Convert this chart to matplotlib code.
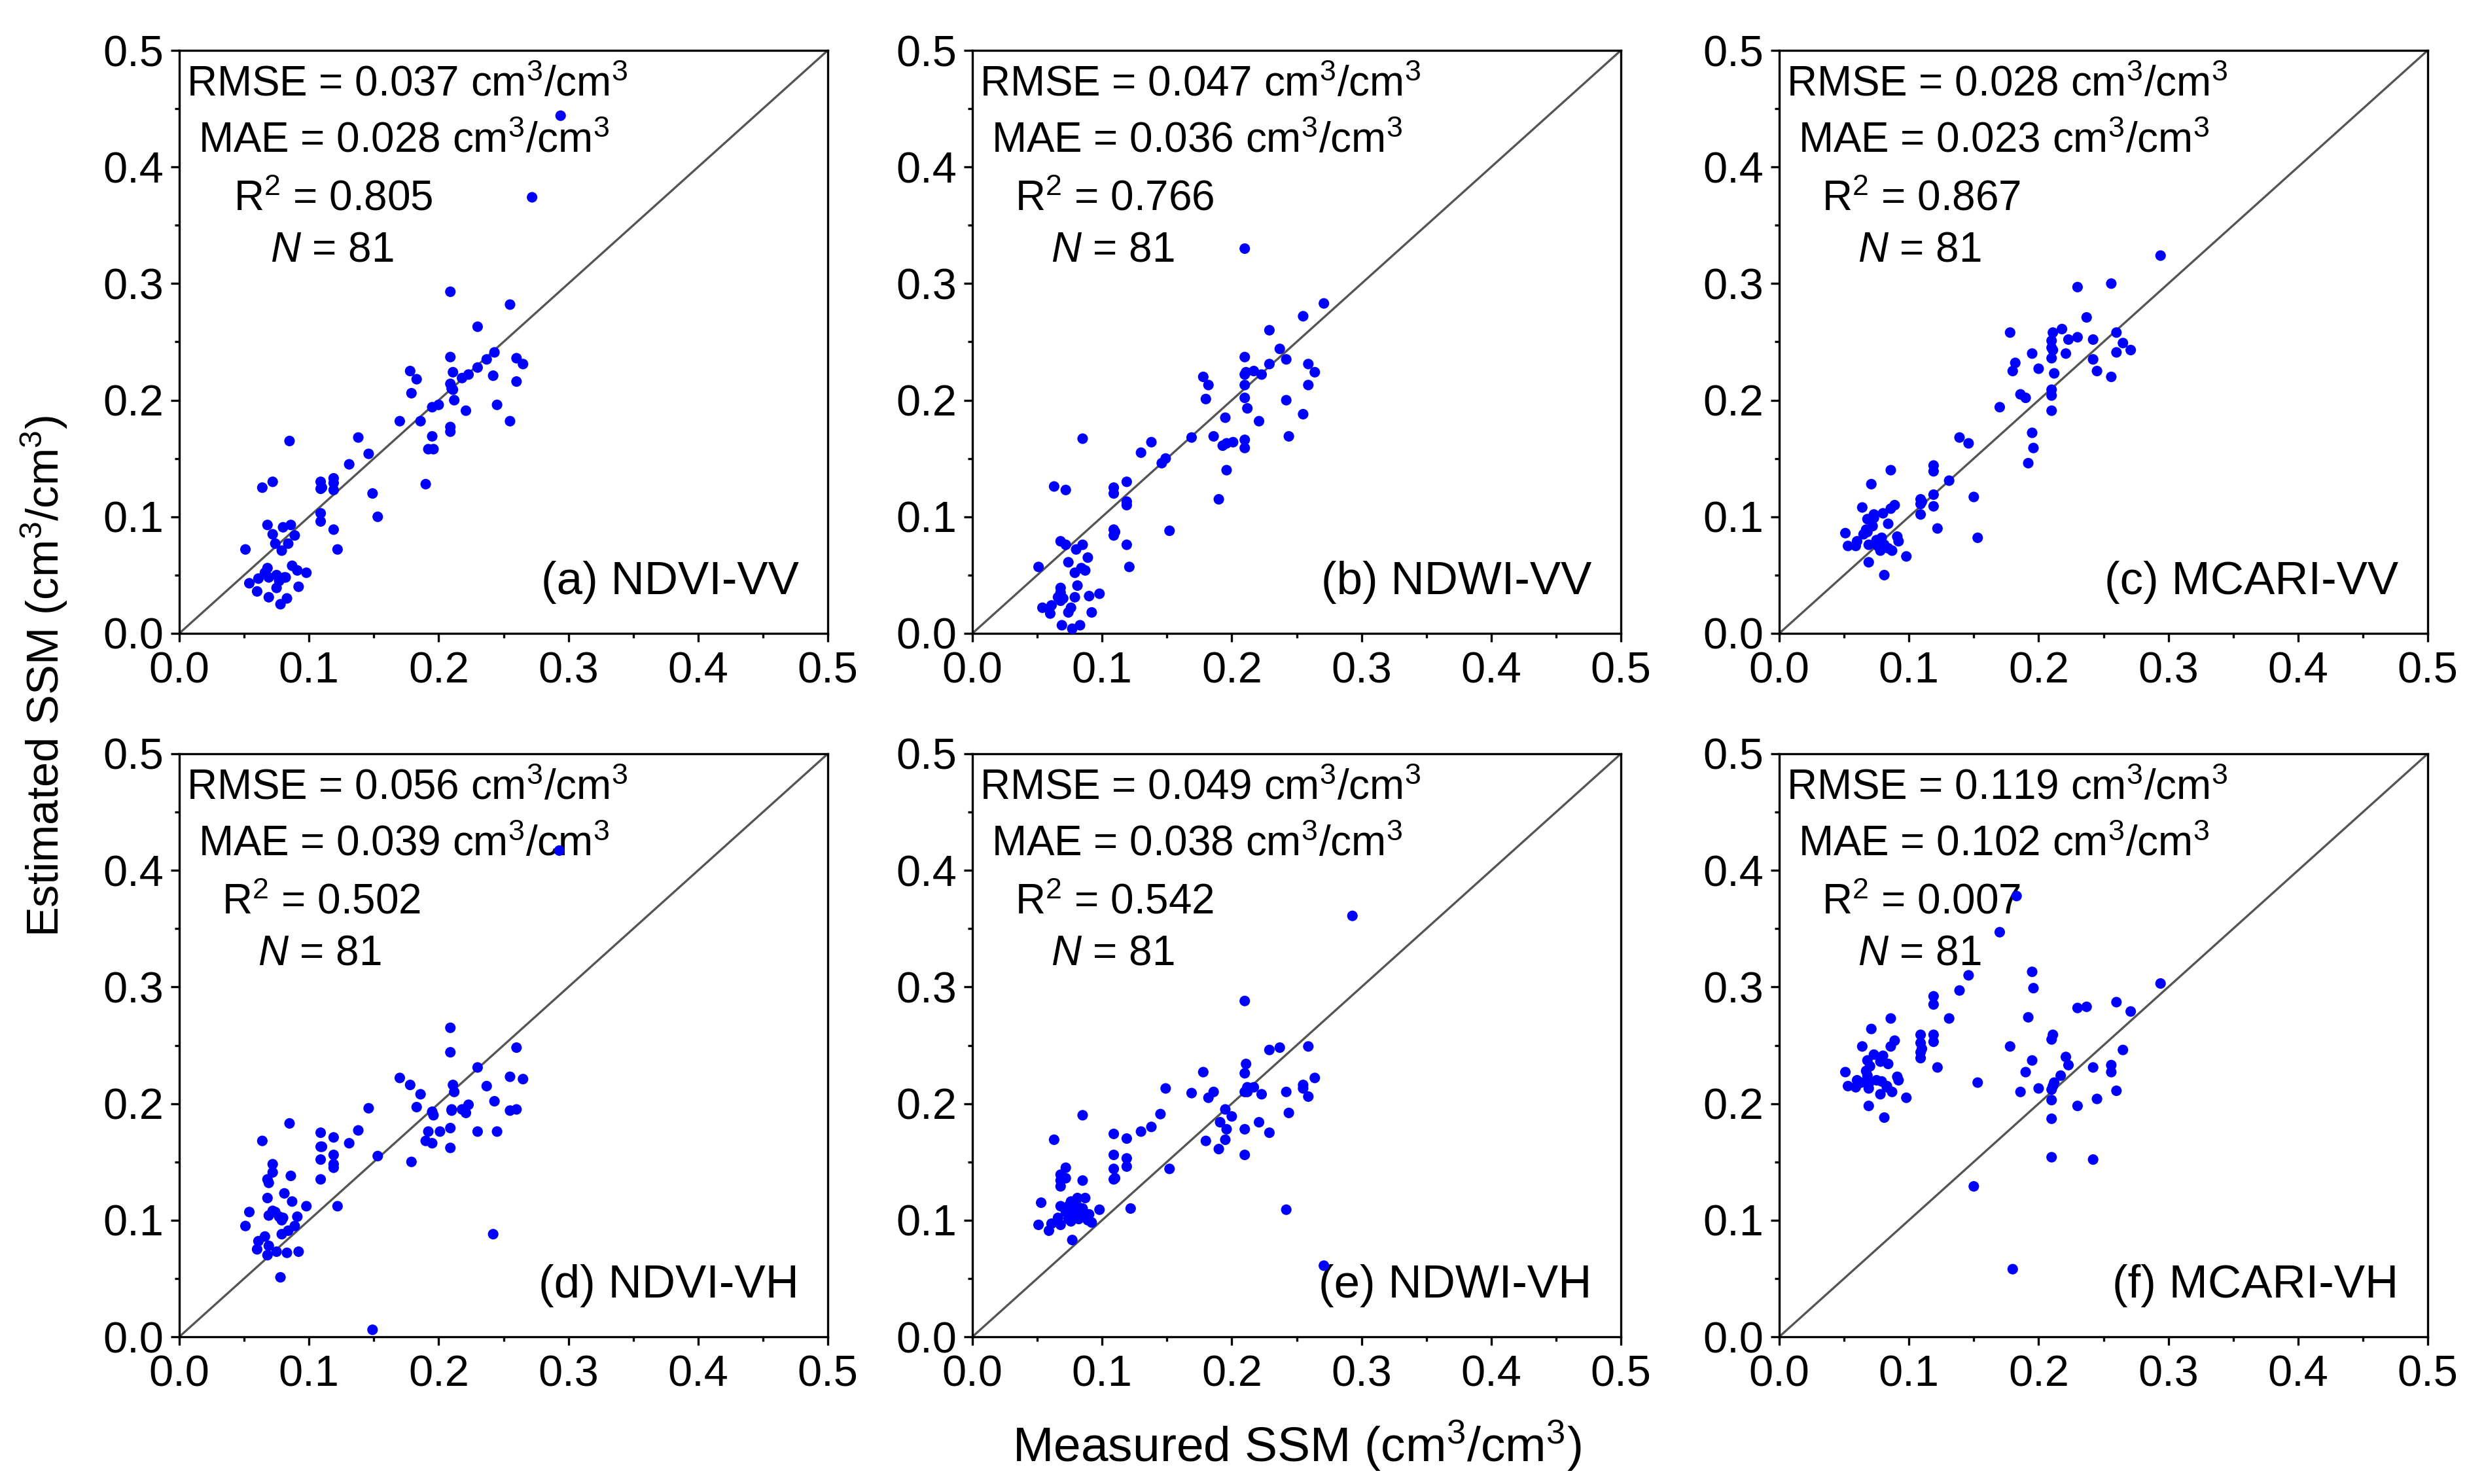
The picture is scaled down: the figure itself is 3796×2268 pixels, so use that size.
import matplotlib
matplotlib.use("Agg")
import matplotlib.pyplot as plt
from matplotlib.ticker import MultipleLocator, FormatStrFormatter

plt.rcParams['font.family'] = ['Liberation Sans', 'DejaVu Sans']
plt.rcParams['mathtext.fontset'] = 'custom'
plt.rcParams['mathtext.rm'] = 'Liberation Sans'
plt.rcParams['mathtext.it'] = 'Liberation Sans:italic'
plt.rcParams['mathtext.bf'] = 'Liberation Sans:bold'

# ---------------- data ----------------
a_x = [0.294, 0.272, 0.209, 0.255, 0.230, 0.243, 0.237, 0.230, 0.209, 0.260, 0.265, 0.211, 0.223, 0.218,
       0.242, 0.260, 0.178, 0.183, 0.179, 0.209, 0.211, 0.212, 0.200, 0.195, 0.245, 0.221, 0.170, 0.186,
       0.255, 0.209, 0.209, 0.195, 0.192, 0.196, 0.138, 0.146, 0.131, 0.085, 0.190, 0.109, 0.109, 0.119,
       0.119, 0.119, 0.149, 0.153, 0.109, 0.109, 0.119, 0.122, 0.064, 0.072, 0.068, 0.080, 0.086, 0.072,
       0.089, 0.074, 0.084, 0.079, 0.051, 0.087, 0.091, 0.098, 0.068, 0.066, 0.069, 0.061, 0.054, 0.081,
       0.077, 0.075, 0.092, 0.060, 0.069, 0.083, 0.078, 0.082, 0.210, 0.110, 0.075]
a_y = [0.444, 0.374, 0.293, 0.282, 0.263, 0.241, 0.235, 0.228, 0.237, 0.236, 0.231, 0.224, 0.222, 0.219,
       0.221, 0.216, 0.225, 0.218, 0.206, 0.214, 0.209, 0.200, 0.196, 0.194, 0.196, 0.191, 0.182, 0.182,
       0.182, 0.177, 0.173, 0.169, 0.158, 0.158, 0.168, 0.154, 0.145, 0.165, 0.128, 0.130, 0.124, 0.133,
       0.129, 0.123, 0.120, 0.100, 0.103, 0.096, 0.089, 0.072, 0.125, 0.130, 0.093, 0.091, 0.093, 0.085,
       0.084, 0.077, 0.077, 0.071, 0.072, 0.058, 0.054, 0.052, 0.056, 0.052, 0.048, 0.047, 0.043, 0.048,
       0.045, 0.039, 0.040, 0.036, 0.031, 0.030, 0.025, 0.048, 0.210, 0.125, 0.050]

b_x = [0.210, 0.271, 0.255, 0.229, 0.237, 0.242, 0.210, 0.229, 0.259, 0.264, 0.211, 0.217, 0.223, 0.178,
       0.182, 0.210, 0.259, 0.180, 0.210, 0.242, 0.212, 0.255, 0.195, 0.221, 0.169, 0.186, 0.244, 0.210,
       0.210, 0.193, 0.196, 0.201, 0.138, 0.130, 0.149, 0.146, 0.196, 0.085, 0.190, 0.119, 0.109, 0.109,
       0.119, 0.119, 0.152, 0.109, 0.109, 0.119, 0.121, 0.063, 0.072, 0.068, 0.072, 0.080, 0.085, 0.089,
       0.074, 0.079, 0.084, 0.087, 0.051, 0.068, 0.068, 0.066, 0.068, 0.081, 0.098, 0.090, 0.079, 0.061,
       0.054, 0.060, 0.076, 0.074, 0.092, 0.069, 0.083, 0.077, 0.110, 0.210, 0.070]
b_y = [0.330, 0.283, 0.272, 0.260, 0.244, 0.235, 0.237, 0.231, 0.231, 0.224, 0.224, 0.225, 0.222, 0.220,
       0.213, 0.213, 0.213, 0.201, 0.202, 0.200, 0.193, 0.188, 0.185, 0.182, 0.168, 0.169, 0.169, 0.166,
       0.159, 0.161, 0.163, 0.164, 0.164, 0.155, 0.150, 0.146, 0.140, 0.167, 0.115, 0.130, 0.125, 0.120,
       0.113, 0.110, 0.088, 0.089, 0.084, 0.076, 0.057, 0.126, 0.123, 0.079, 0.076, 0.072, 0.076, 0.065,
       0.061, 0.052, 0.056, 0.054, 0.057, 0.039, 0.035, 0.031, 0.028, 0.041, 0.034, 0.032, 0.031, 0.024,
       0.022, 0.017, 0.022, 0.018, 0.018, 0.007, 0.007, 0.004, 0.087, 0.222, 0.030]

c_x = [0.294, 0.230, 0.256, 0.237, 0.178, 0.218, 0.211, 0.260, 0.230, 0.223, 0.242, 0.210, 0.265, 0.271,
       0.260, 0.211, 0.221, 0.195, 0.182, 0.210, 0.242, 0.200, 0.180, 0.245, 0.212, 0.256, 0.210, 0.186,
       0.210, 0.190, 0.170, 0.210, 0.195, 0.196, 0.192, 0.139, 0.146, 0.119, 0.119, 0.131, 0.086, 0.071,
       0.150, 0.119, 0.109, 0.109, 0.119, 0.109, 0.122, 0.153, 0.064, 0.086, 0.089, 0.080, 0.068, 0.073,
       0.084, 0.067, 0.068, 0.051, 0.091, 0.092, 0.060, 0.053, 0.059, 0.069, 0.075, 0.081, 0.078, 0.087,
       0.069, 0.098, 0.081, 0.076, 0.079, 0.072, 0.210, 0.110, 0.065, 0.084, 0.073]
c_y = [0.324, 0.297, 0.300, 0.271, 0.258, 0.261, 0.258, 0.258, 0.254, 0.252, 0.252, 0.251, 0.249, 0.243,
       0.241, 0.243, 0.240, 0.240, 0.232, 0.236, 0.235, 0.227, 0.225, 0.225, 0.223, 0.220, 0.209, 0.205,
       0.204, 0.202, 0.194, 0.191, 0.172, 0.159, 0.146, 0.168, 0.163, 0.144, 0.139, 0.131, 0.140, 0.128,
       0.117, 0.119, 0.115, 0.111, 0.109, 0.102, 0.090, 0.082, 0.108, 0.107, 0.110, 0.103, 0.098, 0.099,
       0.094, 0.089, 0.087, 0.086, 0.083, 0.079, 0.079, 0.075, 0.075, 0.076, 0.080, 0.076, 0.071, 0.071,
       0.061, 0.066, 0.050, 0.075, 0.082, 0.092, 0.245, 0.113, 0.085, 0.073, 0.102]

d_x = [0.293, 0.209, 0.260, 0.209, 0.230, 0.170, 0.255, 0.265, 0.178, 0.211, 0.237, 0.212, 0.186, 0.243,
       0.223, 0.146, 0.183, 0.218, 0.260, 0.255, 0.210, 0.221, 0.195, 0.196, 0.085, 0.209, 0.138, 0.109,
       0.192, 0.201, 0.230, 0.245, 0.119, 0.064, 0.131, 0.190, 0.195, 0.109, 0.209, 0.119, 0.153, 0.109,
       0.179, 0.119, 0.119, 0.072, 0.072, 0.086, 0.068, 0.069, 0.109, 0.081, 0.068, 0.087, 0.098, 0.122,
       0.054, 0.069, 0.074, 0.077, 0.080, 0.091, 0.051, 0.089, 0.084, 0.079, 0.242, 0.066, 0.061, 0.069,
       0.060, 0.075, 0.083, 0.092, 0.068, 0.078, 0.149, 0.079, 0.110, 0.210, 0.072]
d_y = [0.417, 0.265, 0.248, 0.244, 0.231, 0.222, 0.223, 0.221, 0.216, 0.216, 0.215, 0.210, 0.208, 0.202,
       0.199, 0.196, 0.197, 0.195, 0.195, 0.194, 0.194, 0.192, 0.193, 0.190, 0.183, 0.179, 0.177, 0.175,
       0.176, 0.176, 0.176, 0.176, 0.171, 0.168, 0.166, 0.168, 0.166, 0.163, 0.162, 0.156, 0.155, 0.152,
       0.150, 0.148, 0.145, 0.148, 0.141, 0.138, 0.135, 0.132, 0.135, 0.123, 0.119, 0.116, 0.112, 0.112,
       0.107, 0.104, 0.107, 0.103, 0.102, 0.103, 0.095, 0.095, 0.091, 0.088, 0.088, 0.086, 0.082, 0.078,
       0.075, 0.073, 0.072, 0.073, 0.070, 0.051, 0.006, 0.100, 0.163, 0.195, 0.108]

e_x = [0.293, 0.210, 0.259, 0.237, 0.229, 0.211, 0.178, 0.210, 0.264, 0.255, 0.255, 0.212, 0.217, 0.149,
       0.169, 0.186, 0.210, 0.223, 0.242, 0.182, 0.259, 0.195, 0.244, 0.145, 0.200, 0.085, 0.191, 0.221,
       0.138, 0.196, 0.210, 0.130, 0.229, 0.109, 0.119, 0.063, 0.180, 0.195, 0.190, 0.109, 0.210, 0.119,
       0.119, 0.072, 0.109, 0.152, 0.068, 0.072, 0.068, 0.085, 0.109, 0.068, 0.053, 0.087, 0.081, 0.076,
       0.068, 0.074, 0.081, 0.098, 0.122, 0.242, 0.077, 0.072, 0.084, 0.090, 0.066, 0.082, 0.089, 0.092,
       0.076, 0.051, 0.061, 0.068, 0.059, 0.077, 0.271, 0.212, 0.074, 0.110, 0.085]
e_y = [0.361, 0.288, 0.249, 0.248, 0.246, 0.234, 0.227, 0.226, 0.222, 0.216, 0.213, 0.214, 0.214, 0.213,
       0.209, 0.210, 0.210, 0.208, 0.210, 0.205, 0.206, 0.195, 0.192, 0.191, 0.189, 0.190, 0.184, 0.184,
       0.180, 0.178, 0.178, 0.176, 0.175, 0.174, 0.170, 0.169, 0.168, 0.169, 0.161, 0.156, 0.156, 0.153,
       0.146, 0.145, 0.144, 0.144, 0.139, 0.136, 0.134, 0.134, 0.135, 0.129, 0.115, 0.119, 0.119, 0.116,
       0.112, 0.112, 0.112, 0.109, 0.110, 0.109, 0.107, 0.107, 0.105, 0.105, 0.102, 0.101, 0.100, 0.098,
       0.099, 0.096, 0.097, 0.096, 0.091, 0.083, 0.061, 0.210, 0.101, 0.136, 0.110]

f_x = [0.183, 0.170, 0.146, 0.294, 0.195, 0.196, 0.139, 0.119, 0.119, 0.260, 0.237, 0.230, 0.271, 0.192,
       0.131, 0.086, 0.071, 0.109, 0.119, 0.211, 0.210, 0.089, 0.109, 0.119, 0.064, 0.086, 0.178, 0.265,
       0.109, 0.109, 0.073, 0.080, 0.221, 0.068, 0.195, 0.084, 0.223, 0.256, 0.122, 0.242, 0.067, 0.051,
       0.190, 0.256, 0.217, 0.091, 0.092, 0.060, 0.075, 0.079, 0.069, 0.212, 0.153, 0.053, 0.059, 0.083,
       0.069, 0.200, 0.210, 0.087, 0.186, 0.260, 0.078, 0.098, 0.210, 0.245, 0.069, 0.230, 0.081, 0.210,
       0.210, 0.242, 0.150, 0.180, 0.070, 0.078, 0.211, 0.068, 0.083, 0.063, 0.110]
f_y = [0.378, 0.347, 0.310, 0.303, 0.313, 0.299, 0.297, 0.292, 0.285, 0.287, 0.283, 0.282, 0.279, 0.274,
       0.273, 0.273, 0.264, 0.259, 0.259, 0.259, 0.255, 0.254, 0.252, 0.253, 0.249, 0.249, 0.249, 0.246,
       0.244, 0.239, 0.242, 0.241, 0.240, 0.237, 0.237, 0.234, 0.233, 0.233, 0.231, 0.231, 0.228, 0.227,
       0.227, 0.227, 0.224, 0.223, 0.220, 0.220, 0.220, 0.219, 0.217, 0.218, 0.218, 0.215, 0.214, 0.215,
       0.213, 0.213, 0.212, 0.210, 0.210, 0.211, 0.208, 0.205, 0.203, 0.204, 0.198, 0.198, 0.188, 0.187,
       0.154, 0.152, 0.129, 0.058, 0.232, 0.236, 0.215, 0.224, 0.214, 0.218, 0.247]

panel_labels = ['(a) NDVI-VV', '(b) NDWI-VV', '(c) MCARI-VV',
                '(d) NDVI-VH', '(e) NDWI-VH', '(f) MCARI-VH']
rmse_vals = ['0.037', '0.047', '0.028', '0.056', '0.049', '0.119']
mae_vals = ['0.028', '0.036', '0.023', '0.039', '0.038', '0.102']
r2_vals = ['0.805', '0.766', '0.867', '0.502', '0.542', '0.007']
n_vals = [81, 81, 81, 81, 81, 81]
xs = [a_x, b_x, c_x, d_x, e_x, f_x]
ys = [a_y, b_y, c_y, d_y, e_y, f_y]
ticks = [0.0, 0.1, 0.2, 0.3, 0.4, 0.5]

# ---------------- figure ----------------
W, H = 3796, 2268
fig = plt.figure(figsize=(W / 300, H / 300), dpi=300)

lefts = [274, 1486, 2719]
tops = [77, 1152]
aw, ah = 991, 891

tick_fs = 16
ann_fs = 15.3
lab_fs = 17
xlab_fs = 18
ylab_fs = 16.5

for i in range(6):
    r, c = divmod(i, 3)
    l = lefts[c] / W
    b = 1 - (tops[r] + ah) / H
    ax = fig.add_axes([l, b, aw / W, ah / H])
    ax.plot([0, 0.5], [0, 0.5], color='#555555', lw=0.8, zorder=2)
    ax.scatter(xs[i], ys[i], s=15, color='#0000FF', edgecolors='none', zorder=5, clip_on=False)
    ax.set_xlim(0, 0.5)
    ax.set_ylim(0, 0.5)
    ax.set_xticks(ticks)
    ax.set_yticks(ticks)
    ax.xaxis.set_major_formatter(FormatStrFormatter('%.1f'))
    ax.yaxis.set_major_formatter(FormatStrFormatter('%.1f'))
    ax.xaxis.set_minor_locator(MultipleLocator(0.05))
    ax.yaxis.set_minor_locator(MultipleLocator(0.05))
    ax.tick_params(which='major', direction='out', length=3.2, width=0.8,
                   labelsize=tick_fs)
    ax.tick_params(axis='x', which='major', pad=3.5)
    ax.tick_params(axis='y', which='major', pad=2.5)
    ax.tick_params(which='minor', direction='out', length=1.7, width=0.8)
    for sp in ax.spines.values():
        sp.set_linewidth(0.8)

    r2x = 0.084 if i == 0 else 0.066
    nx = 0.140 if i == 0 else 0.121
    ax.text(0.011, 0.921, 'RMSE = ' + rmse_vals[i] + r' cm$^{3}$/cm$^{3}$',
            transform=ax.transAxes, fontsize=ann_fs, va='baseline', ha='left', zorder=3)
    ax.text(0.029, 0.825, 'MAE = ' + mae_vals[i] + r' cm$^{3}$/cm$^{3}$',
            transform=ax.transAxes, fontsize=ann_fs, va='baseline', ha='left', zorder=3)
    ax.text(r2x, 0.726, r'R$^{2}$ = ' + r2_vals[i],
            transform=ax.transAxes, fontsize=ann_fs, va='baseline', ha='left', zorder=3)
    ax.text(nx, 0.638, r'$\mathit{N}$ = ' + str(n_vals[i]),
            transform=ax.transAxes, fontsize=ann_fs, va='baseline', ha='left', zorder=3)
    ax.text(0.955, 0.067, panel_labels[i], transform=ax.transAxes,
            fontsize=lab_fs, va='baseline', ha='right', zorder=3)

fig.text(1982 / W, 1 - 2210 / H, r'Measured SSM (cm$^{3}$/cm$^{3}$)',
         fontsize=xlab_fs, ha='center', va='center')
fig.text(68 / W, 1 - 1033 / H, r'Estimated SSM (cm$^{3}$/cm$^{3}$)',
         fontsize=ylab_fs, ha='center', va='center', rotation=90)

fig.savefig('out.png', dpi=300, facecolor='white')
